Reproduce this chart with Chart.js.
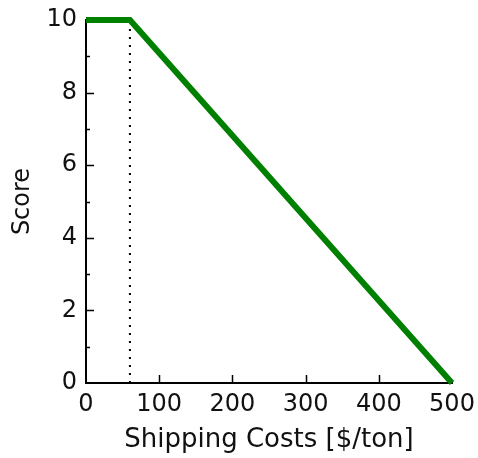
<!DOCTYPE html>
<html>
<head>
<meta charset="utf-8">
<script src="https://cdn.jsdelivr.net/npm/chart.js@4/dist/chart.umd.min.js"></script>
<style>
  html, body { margin: 0; padding: 0; background: #fff; }
  #wrap { width: 478px; height: 458px; }
</style>
</head>
<body>
<div id="wrap"><canvas id="c" width="478" height="458"></canvas></div>
<script>
// ---- data ----
const shippingCosts = [0, 60, 500];
const scores = [10, 10, 0];
const thresholdCost = [60, 60];
const thresholdScore = [0, 10];
const xTickValues = [0, 100, 200, 300, 400, 500];
const yTickValues = [0, 1, 2, 3, 4, 5, 6, 7, 8, 9, 10];
const xTitle = 'Shipping Costs [$/ton]';
const yTitle = 'Score';

const FONT = 'DejaVu Sans';

const scorePoints = shippingCosts.map((x, i) => ({ x, y: scores[i] }));
const thresholdPoints = thresholdCost.map((x, i) => ({ x, y: thresholdScore[i] }));

const inwardTicks = {
  id: 'inwardTicks',
  afterDatasetsDraw(chart) {
    const { ctx, chartArea, scales } = chart;
    const xs = scales.x, ys = scales.y;
    ctx.save();
    ctx.strokeStyle = '#000';
    ctx.lineWidth = 1.5;
    ctx.beginPath();
    xTickValues.forEach(v => {
      if (v === xTickValues[0] || v === xTickValues[xTickValues.length - 1]) return;
      const px = Math.round(xs.getPixelForValue(v)) + 0.5;
      ctx.moveTo(px, chartArea.bottom);
      ctx.lineTo(px, chartArea.bottom - 8);
    });
    yTickValues.forEach(v => {
      if (v === yTickValues[0] || v === yTickValues[yTickValues.length - 1]) return;
      const py = Math.round(ys.getPixelForValue(v)) + 0.5;
      const len = (v % 2 === 0) ? 8 : 4;
      ctx.moveTo(chartArea.left, py);
      ctx.lineTo(chartArea.left + len, py);
    });
    ctx.stroke();
    ctx.restore();
  }
};

new Chart(document.getElementById('c'), {
  type: 'scatter',
  data: {
    datasets: [
      {
        data: thresholdPoints,
        showLine: true,
        borderColor: '#000',
        borderWidth: 2,
        borderDash: [2, 6],
        pointRadius: 0,
        fill: false,
        clip: false,
        order: 2
      },
      {
        data: scorePoints,
        showLine: true,
        borderColor: '#008000',
        borderWidth: 6,
        borderCapStyle: 'butt',
        borderJoinStyle: 'miter',
        pointRadius: 0,
        fill: false,
        clip: false,
        order: 1
      }
    ]
  },
  options: {
    responsive: false,
    animation: false,
    devicePixelRatio: 1,
    layout: { padding: { top: 20, right: 26, left: 0, bottom: 0 } },
    plugins: { legend: { display: false }, tooltip: { enabled: false } },
    scales: {
      x: {
        type: 'linear',
        min: 0, max: 500,
        afterBuildTicks(scale) { scale.ticks = xTickValues.map(v => ({ value: v })); },
        afterFit(scale) {
          scale.height = 75;
          scale.paddingLeft = 0; scale.paddingRight = 0;
          scale.paddingTop = 0; scale.paddingBottom = 0;
        },
        grid: { display: false, drawTicks: false },
        border: { display: true, color: '#000', width: 2 },
        ticks: {
          color: '#111',
          font: { family: FONT, size: 24 },
          padding: 7,
          maxRotation: 0,
          autoSkip: false
        },
        title: {
          display: true,
          text: xTitle,
          color: '#111',
          font: { family: FONT, size: 26 },
          padding: { top: 0, bottom: 2 }
        }
      },
      y: {
        type: 'linear',
        min: 0, max: 10,
        afterBuildTicks(scale) { scale.ticks = yTickValues.map(v => ({ value: v })); },
        afterFit(scale) {
          scale.width = 86;
          scale.paddingLeft = 0; scale.paddingRight = 0;
          scale.paddingTop = 0; scale.paddingBottom = 0;
        },
        grid: { display: false, drawTicks: false },
        border: { display: true, color: '#000', width: 2 },
        ticks: {
          color: '#111',
          font: { family: FONT, size: 24 },
          padding: 9,
          autoSkip: false,
          callback: (v) => (v % 2 === 0 ? String(v) : '')
        },
        title: {
          display: true,
          text: yTitle,
          color: '#111',
          font: { family: FONT, size: 24 },
          padding: { top: 8, bottom: 0 }
        }
      }
    }
  },
  plugins: [inwardTicks]
});
</script>
</body>
</html>
